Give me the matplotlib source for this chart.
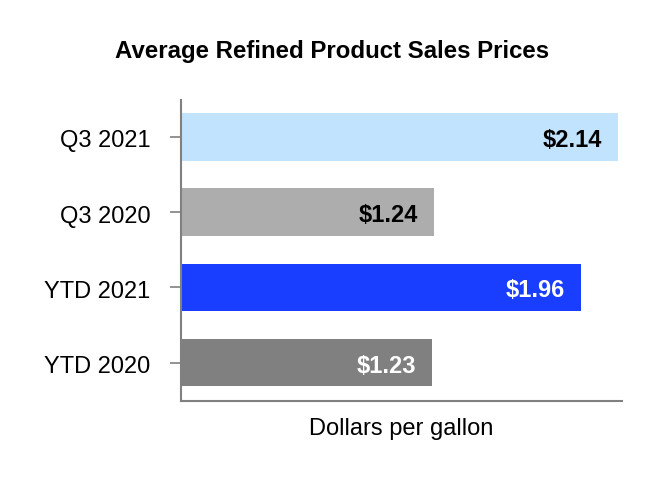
import matplotlib
matplotlib.use("Agg")
import matplotlib.pyplot as plt
import matplotlib.transforms as mtransforms

plt.rcParams['font.family'] = ['Liberation Sans', 'DejaVu Sans']

categories = ["Q3 2021", "Q3 2020", "YTD 2021", "YTD 2020"]
prices = [2.14, 1.24, 1.96, 1.23]
bar_colors = ["#C2E3FD", "#ADADAD", "#1A3EFF", "#808080"]
label_colors = ["black", "black", "white", "white"]

fig = plt.figure(figsize=(6.64, 4.8), dpi=100)
ax = fig.add_axes([0.2726, 0.1646, 0.6641, 0.6271])

pos = list(range(len(categories)))
ax.barh(pos, prices, height=0.63, color=bar_colors)

for p, v, c in zip(pos, prices, label_colors):
    ax.annotate("${:.2f}".format(v), xy=(v, p), xytext=(-16, -1),
                textcoords="offset pixels", ha="right", va="center_baseline",
                fontsize=17, fontweight="bold", color=c)

ax.set_xlim(0, 2.16)
ax.set_ylim(3.51, -0.49)
ax.set_yticks(pos)
ax.set_yticklabels(categories, fontsize=17)
ax.set_xticks([])
ax.tick_params(axis="y", length=8, width=1.2, color="#808080", pad=14)

# nudge tick labels down a little, as in the original
shift = mtransforms.ScaledTranslation(0, -2 / 100, fig.dpi_scale_trans)
for lab in ax.get_yticklabels():
    lab.set_transform(lab.get_transform() + shift)

for s in ["top", "right"]:
    ax.spines[s].set_visible(False)
for s in ["left", "bottom"]:
    ax.spines[s].set_color("#808080")
    ax.spines[s].set_linewidth(1.5)

ax.set_xlabel("Dollars per gallon", fontsize=17, labelpad=12)
fig.text(0.5, 0.893, "Average Refined Product Sales Prices", ha="center",
         va="center", fontsize=17.3, fontweight="bold")

fig.savefig("out.png", dpi=100)
